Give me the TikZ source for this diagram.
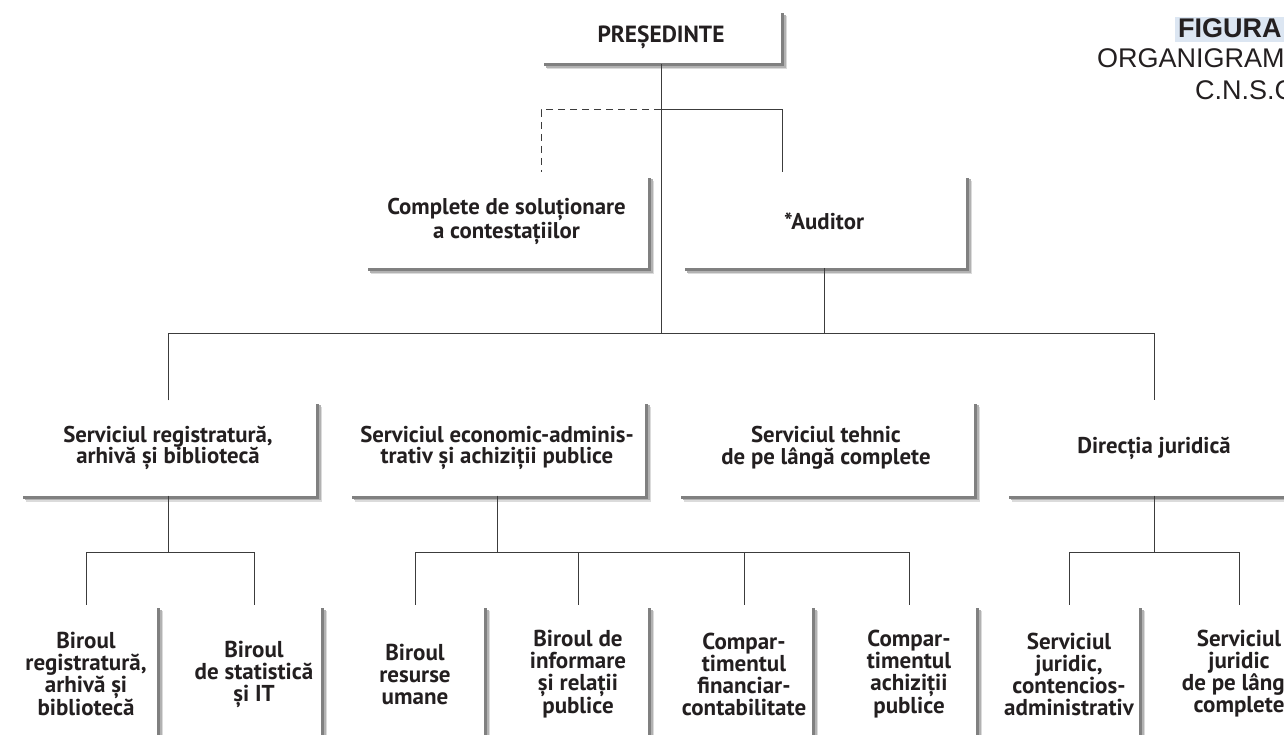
\documentclass[tikz,border=0pt]{standalone}
\usepackage{fontspec}
\setmainfont{PT Sans}
\newfontfamily\figfont{Liberation Sans}
\usetikzlibrary{shadows}
\definecolor{figbg}{HTML}{DCE6F2}
\definecolor{txt}{HTML}{231F20}
\definecolor{linec}{HTML}{3C3C3C}
\begin{document}
\begin{tikzpicture}[x=1pt,y=-1pt,
  lbl/.style={font=\bfseries\fontsize{22.8}{21.5}\selectfont, text=txt, align=center},
  box/.style={lbl, fill=white, inner sep=0pt,
    drop shadow={shadow xshift=6pt, shadow yshift=-6pt, fill=black!14, opacity=1},
    drop shadow={shadow xshift=4.5pt, shadow yshift=-4.5pt, fill=black!30, opacity=1},
    drop shadow={shadow xshift=3pt, shadow yshift=-3pt, fill=black!50, opacity=1}},
  lvl/.style={box, minimum width=296pt, minimum height=95pt},
  bot/.style={box, font=\bfseries\fontsize{23}{22}\selectfont, minimum width=#1, minimum height=138pt},
  conn/.style={draw=linec, line width=1pt},
  dconn/.style={conn, dash pattern=on 7pt off 5pt},
  fig/.style={font=\figfont\fontsize{27}{27}\selectfont, text=txt, inner sep=0pt, anchor=base west}
]
\useasboundingbox (0,0) rectangle (1284,735);

% title block
\node[fig, font=\figfont\bfseries\fontsize{27}{27}\selectfont, fill=figbg, inner xsep=3pt,
      text height=21pt, text depth=4pt] (fig1) at (1175,38) {FIGURA};
\node[fig] (fig2) at (1097,68) {ORGANIGRAM};
\node[fig] (fig3) at (1195,100) {C.N.S.C};

% top
\node[box, font=\bfseries\fontsize{23.4}{23.4}\selectfont, minimum width=240pt, minimum height=53pt] (pres) at (661,37) {PREȘEDINTE};
\node[box, minimum width=283pt, minimum height=93pt] (comp) at (506.5,221.5) {Complete de soluționare\\a contestațiilor};
\node[box, minimum width=284pt, minimum height=93pt] (aud) at (824,221.5) {*Auditor};

% level 2
\node[lvl] (s1) at (168,448) {Serviciul registratură,\\arhivă și bibliotecă};
\node[lvl] (s2) at (497,448) {Serviciul economic-adminis-\\trativ și achiziții publice};
\node[lvl] (s3) at (826,448) {Serviciul tehnic\\de pe lângă complete};
\node[lvl] (s4) at (1154,448) {Direcția juridică};

% level 3
\node[bot=142pt] (b1) at (86,674) {Biroul\\registratură,\\arhivă și\\bibliotecă};
\node[bot=134pt] (b2) at (254,674) {Biroul\\de statistică\\și IT};
\node[bot=138pt] (b3) at (415,674) {Biroul\\resurse\\umane};
\node[bot=140pt] (b4) at (578,674) {Biroul de\\informare\\și relații\\publice};
\node[bot=136pt] (b5) at (744,674) {Compar-\\timentul\\financiar-\\contabilitate};
\node[bot=134pt] (b6) at (909,674) {Compar-\\timentul\\achiziții\\publice};
\node[bot=140pt] (b7) at (1069,674) {Serviciul\\juridic,\\contencios-\\administrativ};
\node[bot=140pt] (b8) at (1239,674) {Serviciul\\juridic\\de pe lângă\\complete};

% junction coordinates
\coordinate (t1) at (661,110);
\coordinate (t2) at (661,333);
\coordinate (cin) at (541,172);
\coordinate (ain) at (782,172);
\coordinate (r3) at (0,552);

% connectors
\draw[conn] (pres) -- (t2);
\draw[conn] (t1) -| (ain);
\draw[dconn] (t1) -| (cin);
\draw[conn] (aud.south) -- (aud.south |- t2);
\draw[conn] (s1.north) -- (s1.north |- t2) -- (s4.north |- t2) -- (s4.north);

\draw[conn] (s1.south) -- (s1.south |- r3);
\draw[conn] (b1.north) -- (b1.north |- r3) -- (b2.north |- r3) -- (b2.north);

\draw[conn] (s2.south) -- (s2.south |- r3);
\draw[conn] (b3.north) -- (b3.north |- r3) -- (b6.north |- r3) -- (b6.north);
\draw[conn] (b4.north) -- (b4.north |- r3);
\draw[conn] (b5.north) -- (b5.north |- r3);

\draw[conn] (s4.south) -- (s4.south |- r3);
\draw[conn] (b7.north) -- (b7.north |- r3) -- (b8.north |- r3) -- (b8.north);
\end{tikzpicture}
\end{document}
